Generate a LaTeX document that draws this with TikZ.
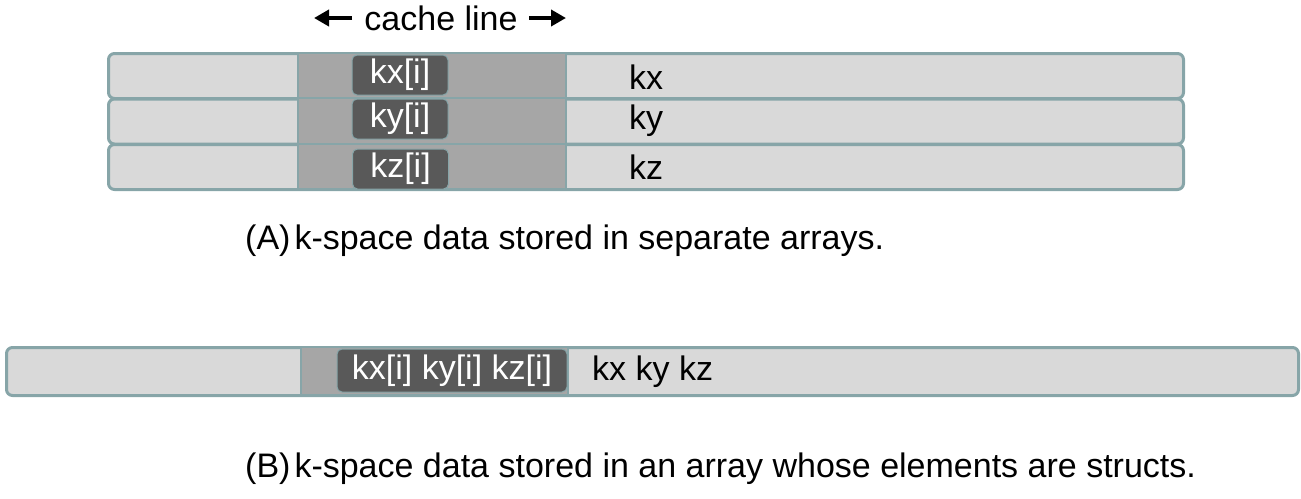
\documentclass[tikz,border=0pt]{standalone}
\usepackage{fontspec}
\setmainfont{Liberation Sans}
\usetikzlibrary{arrows.meta}
\definecolor{lightfill}{HTML}{D9D9D9}
\definecolor{midfill}{HTML}{A6A6A6}
\definecolor{darkfill}{HTML}{595959}
\definecolor{edgecol}{HTML}{87A5A8}
\begin{document}
\begin{tikzpicture}[x=1pt,y=-1pt,
  font=\fontsize{34}{39}\selectfont,
  rowbox/.style={draw=edgecol, line width=3pt, fill=lightfill, rounded corners=6pt,
    inner sep=0pt, anchor=north west, minimum height=45pt, minimum width=1075pt},
  linebox/.style={draw=edgecol, line width=1.8pt, fill=midfill, inner sep=0pt,
    anchor=north west, minimum height=45pt, minimum width=268pt},
  elembox/.style={draw=edgecol, line width=1pt, fill=darkfill, rounded corners=5pt,
    text=white, inner sep=0pt, minimum height=40pt, minimum width=96pt},
  lbl/.style={anchor=west, inner sep=0pt},
  captext/.style={anchor=west, inner sep=0pt},
  arr/.style={line width=4.5pt, -{Triangle[length=15pt,width=16pt]}}
]
\useasboundingbox (0,0) rectangle (1301,498);

% cache line header
\node[inner sep=0pt] (cl) at (441,18) {cache line};
\coordinate (la1) at (352,18); \coordinate (la2) at (314,18);
\coordinate (ra1) at (529,18); \coordinate (ra2) at (566,18);
\draw[arr] (la1) -- (la2);
\draw[arr] (ra1) -- (ra2);

% (A) rows
\node[rowbox] (r1) at (107,52) {};
\node[rowbox] (r2) at (107,97.5) {};
\node[rowbox] (r3) at (107,143) {};
\node[linebox] (s1) at (297,52) {};
\node[linebox] (s2) at (297,97.5) {};
\node[linebox] (s3) at (297,143) {};
\node[elembox] (e1) at (400,75) {kx[i]};
\node[elembox] (e2) at (400,119) {ky[i]};
\node[elembox] (e3) at (400.5,169) {kz[i]};
\node[lbl] (t1) at (629,77) {kx};
\node[lbl] (t2) at (629,121) {ky};
\node[lbl] (t3) at (629,167) {kz};
\node[captext] (capA) at (245,241) {(A)\kern4pt k-space data stored in separate arrays.};

% (B) struct array
\node[rowbox, minimum width=1292pt, minimum height=48pt] (rb) at (5,346) {};
\node[linebox, minimum width=267pt, minimum height=48pt] (sb) at (300,346) {};
\node[elembox, minimum width=230pt, minimum height=43pt] (eb) at (452,370.5) {kx[i] ky[i] kz[i]};
\node[lbl] (tb) at (592,372) {kx ky kz};
\node[captext] (capB) at (245,469) {(B)\kern4pt k-space data stored in an array whose elements are structs.};
\end{tikzpicture}
\end{document}
